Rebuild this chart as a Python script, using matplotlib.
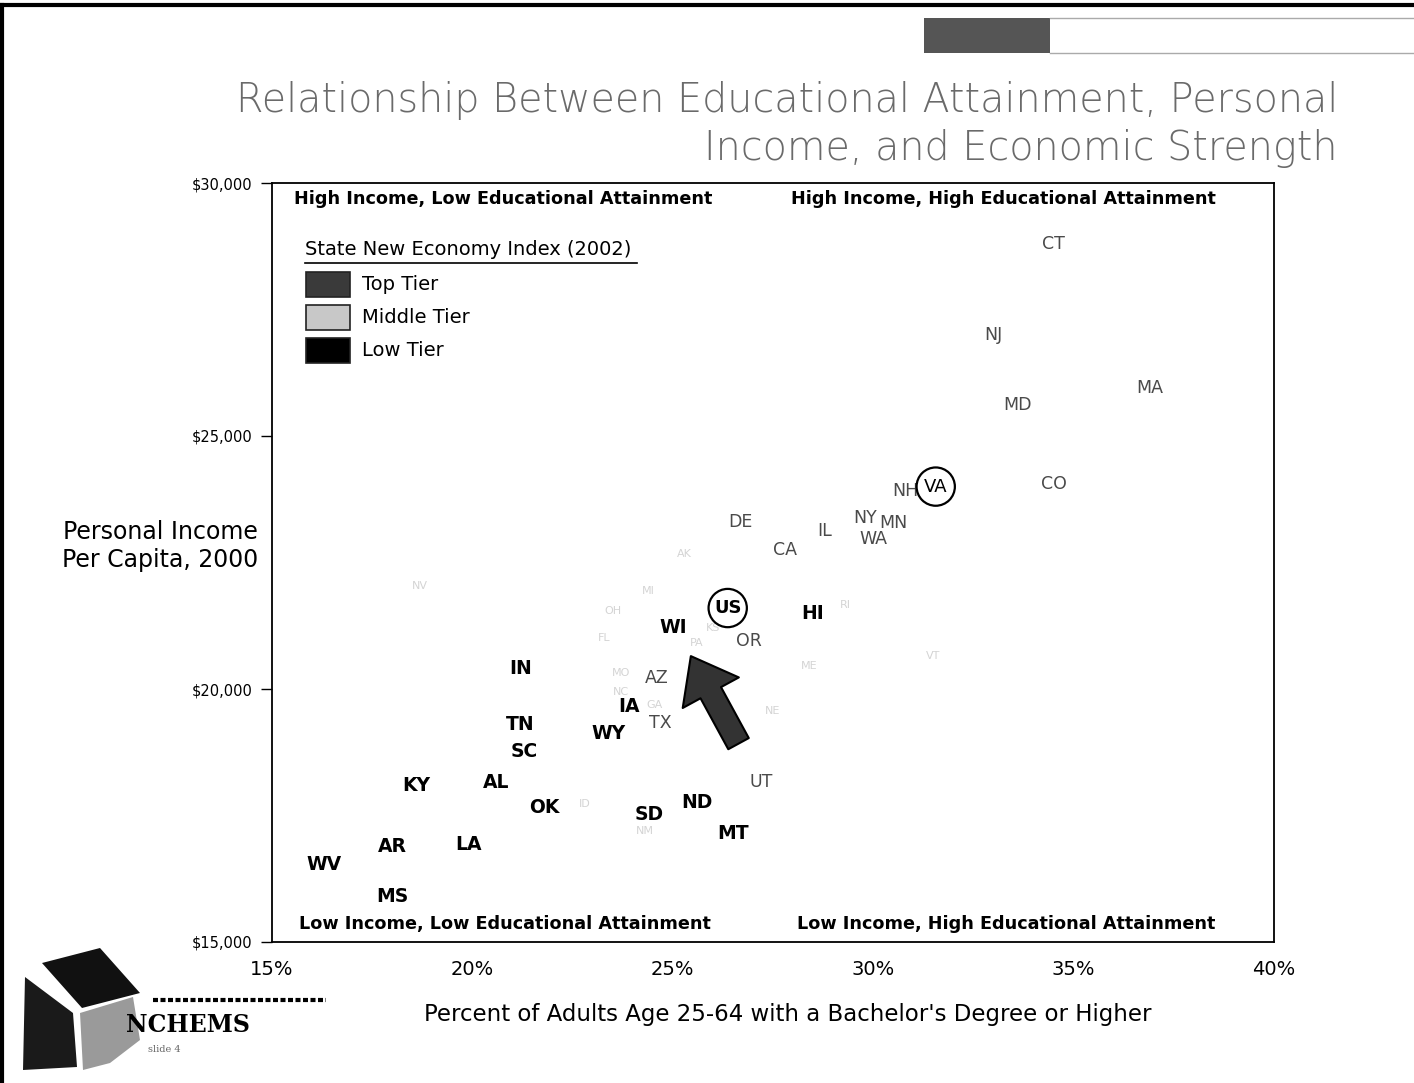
import matplotlib.pyplot as plt
from matplotlib.patches import Polygon, Rectangle
from matplotlib.lines import Line2D

# ---- data ----
states = ["CT", "NJ", "MA", "MD", "NH", "CO", "NY", "MN", "WA", "DE", "IL", "CA",
          "OR", "AZ", "TX", "UT",
          "HI", "WI", "IN", "IA", "WY", "TN", "SC", "KY", "AL", "OK", "SD", "ND",
          "MT", "AR", "LA", "WV", "MS",
          "NV", "AK", "MI", "OH", "FL", "MO", "NC", "GA", "PA", "KS", "NE", "NM",
          "ID", "RI", "ME", "VT"]
pct_bachelor = [34.5, 33.0, 36.9, 33.6, 30.8, 34.5, 29.8, 30.5, 30.0, 26.7, 28.8, 27.8,
                26.9, 24.6, 24.7, 27.2,
                28.5, 25.0, 21.2, 23.9, 23.4, 21.2, 21.3, 18.6, 20.6, 21.8, 24.4, 25.6,
                26.5, 18.0, 19.9, 16.3, 18.0,
                18.7, 25.3, 24.4, 23.5, 23.3, 23.7, 23.7, 24.55, 25.6, 26.0, 27.5, 24.3,
                22.8, 29.3, 28.4, 31.5]
income = [28800, 27000, 25950, 25620, 23920, 24050, 23380, 23280, 22970, 23300, 23120, 22750,
          20950, 20210, 19320, 18170,
          21500, 21220, 20410, 19660, 19120, 19300, 18770, 18090, 18150, 17660, 17520, 17750,
          17140, 16880, 16920, 16530, 15890,
          22030, 22670, 21930, 21540, 21000, 20310, 19950, 19680, 20900, 21200, 19560, 17200,
          17720, 21660, 20450, 20650]
tier = (["Top"] * 16) + (["Low"] * 17) + (["Middle"] * 16)

# circled points
circled = ["US", "VA"]
circled_x = [26.37, 31.56]
circled_y = [21600, 24000]

legend_labels = ["Top Tier", "Middle Tier", "Low Tier"]
quadrant_labels = ["High Income, Low Educational Attainment",
                   "High Income, High Educational Attainment",
                   "Low Income, Low Educational Attainment",
                   "Low Income, High Educational Attainment"]

x_ticks = [15, 20, 25, 30, 35, 40]
y_ticks = [15000, 20000, 25000, 30000]

# ---- figure ----
W, H = 1414, 1083
fig = plt.figure(figsize=(W / 100, H / 100), dpi=100)
plt.rcParams["font.family"] = "DejaVu Sans"


def fx(px):
    return px / W


def fy(py):
    return 1 - py / H


ax = fig.add_axes([fx(272), fy(942), (1274 - 272) / W, (942 - 183) / H])
ax.set_xlim(15, 40)
ax.set_ylim(15000, 30000)
for s in ax.spines.values():
    s.set_linewidth(1.3)
    s.set_color("black")

ax.set_xticks(x_ticks)
ax.set_xticklabels([f"{t}%" for t in x_ticks], fontsize=14)
ax.set_yticks(y_ticks)
ax.set_yticklabels([f"${t:,}" for t in y_ticks], fontsize=10.5)
ax.tick_params(axis="x", length=0, pad=13)
ax.tick_params(axis="y", length=8, width=1, pad=6)

tier_style = {
    "Top": dict(color="#4a4a4a", fontweight="normal", fontsize=12.5),
    "Middle": dict(color="#d4d4d4", fontweight="normal", fontsize=8),
    "Low": dict(color="black", fontweight="bold", fontsize=13.5),
}
for st, x, y, t in zip(states, pct_bachelor, income, tier):
    ax.text(x, y, st, ha="center", va="center", **tier_style[t])

# circled labels
ax.scatter(circled_x, circled_y, s=760, facecolors="none", edgecolors="black",
           linewidths=1.6, zorder=3)
for lab, x, y in zip(circled, circled_x, circled_y):
    ax.text(x, y, lab, ha="center", va="center", fontsize=13,
            fontweight="bold" if lab == "US" else "normal", color="black", zorder=4)

# big arrow
ax.annotate("", xy=(25.45, 20650), xytext=(26.64, 18920),
            arrowprops=dict(arrowstyle="simple,head_length=0.75,head_width=1.15,tail_width=0.42",
                            fc="#333333", ec="black", lw=1.5, mutation_scale=40,
                            shrinkA=0, shrinkB=0))

# quadrant labels
qpos = [(0.231, 0.979), (0.730, 0.979), (0.232, 0.024), (0.733, 0.024)]
for lab, (qx, qy) in zip(quadrant_labels, qpos):
    ax.text(qx, qy, lab, transform=ax.transAxes, ha="center", va="center",
            fontsize=12.7, fontweight="bold")

# legend
ax.text(0.0328, 0.912, "State New Economy Index (2002)", transform=ax.transAxes,
        ha="left", va="center", fontsize=14)
ax.add_line(Line2D([0.0328, 0.364], [0.8945, 0.8945], transform=ax.transAxes,
                   color="black", lw=1.2))
legend_fc = ["#3a3a3a", "#c8c8c8", "black"]
legend_y = [0.8666, 0.8230, 0.7794]
for lab, fc, ly in zip(legend_labels, legend_fc, legend_y):
    ax.add_patch(Rectangle((0.0338, ly - 0.0165), 0.0438, 0.033, transform=ax.transAxes,
                           facecolor=fc, edgecolor="#222222", lw=1.2))
    ax.text(0.0896, ly, lab, transform=ax.transAxes, ha="left", va="center", fontsize=14)

# axis labels
fig.text(fx(788), fy(1014), "Percent of Adults Age 25-64 with a Bachelor's Degree or Higher",
         ha="center", va="center", fontsize=16.5)
fig.text(fx(258), fy(546), "Personal Income\nPer Capita, 2000", ha="right", va="center",
         fontsize=17, linespacing=1.2)

# title
fig.text(fx(1338), fy(100), "Relationship Between Educational Attainment, Personal",
         ha="right", va="center", fontsize=28.5, color="#6a6a6a", fontweight="light")
fig.text(fx(1338), fy(148), "Income, and Economic Strength",
         ha="right", va="center", fontsize=28.5, color="#6a6a6a", fontweight="light")

# slide decoration: border (left and top), header bar
fig.lines.append(Line2D([fx(2), fx(2)], [0, fy(5)], transform=fig.transFigure,
                        color="black", lw=3))
fig.lines.append(Line2D([fx(2), 1], [fy(5), fy(5)], transform=fig.transFigure,
                        color="black", lw=3))
fig.patches.append(Rectangle((fx(924), fy(53)), (1050 - 924) / W, 35 / H,
                             transform=fig.transFigure, facecolor="#555555", edgecolor="none"))
for yy in (18, 53):
    fig.lines.append(Line2D([fx(1050), 1], [fy(yy), fy(yy)], transform=fig.transFigure,
                            color="#aaaaaa", lw=1))

# NCHEMS logo
logo_shapes = [
    ([(42, 963), (100, 948), (140, 993), (82, 1008)], "#111111"),
    ([(25, 977), (73, 1013), (77, 1067), (23, 1070)], "#1a1a1a"),
    ([(80, 1013), (133, 997), (140, 1040), (110, 1063), (83, 1070)], "#9a9a9a"),
]
for pts, c in logo_shapes:
    fig.patches.append(Polygon([(fx(a), fy(b)) for a, b in pts], closed=True,
                               transform=fig.transFigure, facecolor=c, edgecolor="none"))
fig.lines.append(Line2D([fx(153), fx(326)], [fy(1000), fy(1000)], transform=fig.transFigure,
                        color="black", lw=3, linestyle=(0, (1.2, 0.6))))
fig.text(fx(250), fy(1025), "NCHEMS", ha="right", va="center", fontsize=17,
         fontweight="bold", family="DejaVu Serif")
fig.text(fx(148), fy(1050), "slide 4", ha="left", va="center", fontsize=7,
         color="#666666", family="DejaVu Serif")

fig.savefig("out.png", dpi=100)
